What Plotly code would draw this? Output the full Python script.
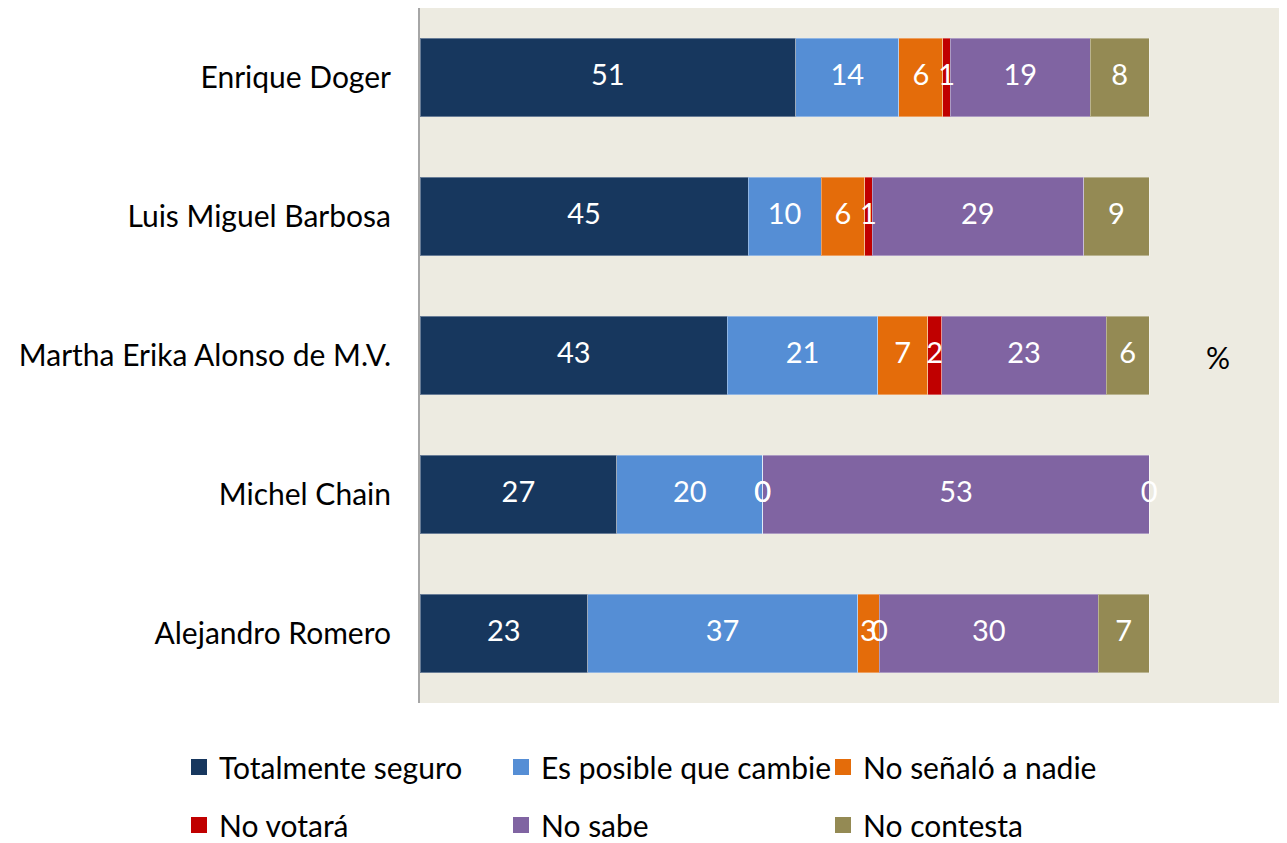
import plotly.graph_objects as go

candidates = ["Enrique Doger", "Luis Miguel Barbosa", "Martha Erika Alonso de M.V.",
              "Michel Chain", "Alejandro Romero"]
series_names = ["Totalmente seguro", "Es posible que cambie", "No señaló a nadie",
                "No votará", "No sabe", "No contesta"]
totalmente_seguro = [51, 45, 43, 27, 23]
es_posible = [14, 10, 21, 20, 37]
no_senalo = [6, 6, 7, 0, 3]
no_votara = [1, 1, 2, 0, 0]
no_sabe = [19, 29, 23, 53, 30]
no_contesta = [8, 9, 6, 0, 7]
colors = ["#17375E", "#558ED5", "#E46C0A", "#C00000", "#8064A2", "#948A54"]

series = [totalmente_seguro, es_posible, no_senalo, no_votara, no_sabe, no_contesta]
FONT = "Lato"

# the page body has an 8px margin, so the figure is drawn 8px smaller
W, H = 1279, 835

fig = go.Figure()
for name, vals, col in zip(series_names, series, colors):
    fig.add_trace(go.Bar(
        y=candidates, x=vals, name=name, orientation="h",
        marker=dict(color=col, line=dict(color="rgba(255,255,255,0.35)", width=1)),
        showlegend=False, hoverinfo="x+name",
    ))

# data labels at the middle of each (normalised) segment
totals = [sum(s[i] for s in series) for i in range(len(candidates))]
lx, ly, lt = [], [], []
for i, cand in enumerate(candidates):
    cum = 0
    for s in series:
        v = s[i]
        lx.append((cum + v / 2) / totals[i] * 100)
        ly.append(cand)
        lt.append(str(v))
        cum += v
fig.add_trace(go.Scatter(x=lx, y=ly, text=lt, mode="text", showlegend=False,
                         textfont=dict(color="white", size=29, family=FONT),
                         cliponaxis=False, hoverinfo="skip"))

# legend entries: one legend per entry, laid out in a 3 x 2 grid
col_x = [171, 493, 815]
row_y = [759, 817]
legend_names = ["legend", "legend2", "legend3", "legend4", "legend5", "legend6"]
legends = {}
for k, (name, col) in enumerate(zip(series_names, colors)):
    fig.add_trace(go.Scatter(
        x=[None], y=[None], mode="markers", name=name,
        marker=dict(symbol="square", size=20, color=col),
        legend=legend_names[k],
    ))
    legends[legend_names[k]] = dict(
        x=col_x[k % 3] / W, y=1 - row_y[k // 3] / H,
        xanchor="left", yanchor="middle", xref="container", yref="container",
        orientation="h", font=dict(size=30, family=FONT, color="black"),
        bgcolor="rgba(0,0,0,0)", itemclick=False, itemdoubleclick=False,
    )

fig.update_layout(
    barmode="stack", barnorm="percent", bargap=0.437,
    width=W, height=H,
    margin=dict(l=412, r=0, t=0, b=140, autoexpand=False),
    plot_bgcolor="#EDEBE1", paper_bgcolor="white",
    font=dict(family=FONT, size=29, color="black"),
    xaxis=dict(range=[0, 118.9], showticklabels=False, showgrid=False,
               zeroline=False, ticks=""),
    yaxis=dict(autorange="reversed", showline=True, linecolor="#A6A6A6",
               linewidth=2, ticks="", ticklabelstandoff=21,
               tickfont=dict(size=30, family=FONT, color="black")),
    annotations=[dict(text="%", x=0.936, y=0.498, xref="paper", yref="paper",
                      showarrow=False, font=dict(size=30, family=FONT, color="black"))],
    **legends,
)

fig.write_html("out.html")
